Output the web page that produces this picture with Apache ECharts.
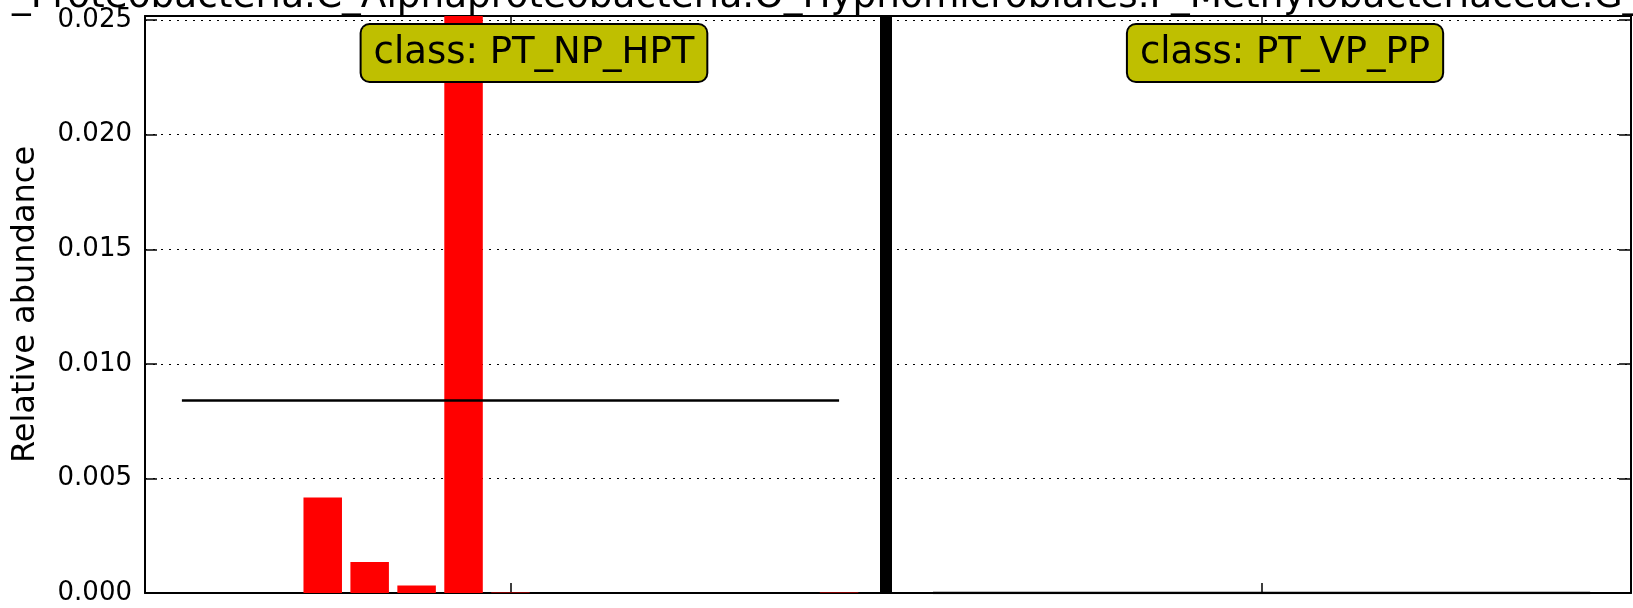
<!DOCTYPE html>
<html>
<head>
<meta charset="utf-8">
<script src="https://cdn.jsdelivr.net/npm/echarts@6/dist/echarts.min.js"></script>
<style>
  html, body { margin: 0; padding: 0; background: #fff; }
  #chart { width: 1633px; height: 608px; }
</style>
</head>
<body>
<div id="chart"></div>
<script>
// feature shown in this plot
const titleText = 'K_Bacteria.P_Proteobacteria.C_Alphaproteobacteria.O_Hyphomicrobiales.F_Methylobacteriaceae.G_Methylobacterium';

const classNames = ['PT_NP_HPT', 'PT_VP_PP'];
const classColors = ['#ff0000', '#00a000'];

// relative abundance per sample, one array per class
const npHptValues = [0, 0, 0, 0.00417, 0.00135, 0.00033, 0.1201, 0.00002, 0, 0, 0, 0, 0, 0, 0.00002];
const vpPpValues = [0, 0, 0, 0, 0, 0, 0, 0, 0, 0, 0, 0, 0, 0, 0];

const yTicks = [0, 0.005, 0.010, 0.015, 0.020, 0.025];
const yMax = 0.02518;

const classValues = [npHptValues, vpPpValues];
const FONT = '"DejaVu Sans", "Liberation Sans", sans-serif';

// sample slots: one empty slot between the classes
const barData = [];
const meanSeries = [];
const classCenters = [];
let slot = 0;
classValues.forEach((vals, c) => {
  const start = slot;
  vals.forEach(v => {
    barData.push({ value: [slot, v], itemStyle: { color: classColors[c] } });
    slot++;
  });
  const end = slot - 1;
  classCenters.push((start + end) / 2);
  const mean = vals.reduce((a, b) => a + b, 0) / vals.length;
  meanSeries.push({
    type: 'line',
    data: [[start, mean], [end, mean]],
    symbol: 'none',
    lineStyle: { color: '#000', width: 2.5 },
    z: 5,
    silent: true
  });
  slot++; // separator slot
});
const dividerX = npHptValues.length;

const chart = echarts.init(document.getElementById('chart'));

const xBase = {
  type: 'value',
  min: -0.786,
  max: 30.87,
  axisLine: { onZero: false, lineStyle: { color: '#000', width: 2 } },
  axisTick: { inside: true, length: 10, customValues: classCenters, lineStyle: { color: '#000', width: 1.5 } },
  axisLabel: { show: false },
  splitLine: { show: false }
};
const yBase = {
  type: 'value',
  min: 0,
  max: yMax,
  axisLine: { show: true, onZero: false, lineStyle: { color: '#000', width: 2 } },
  axisTick: { show: true, inside: true, length: 12, customValues: yTicks, lineStyle: { color: '#000', width: 1.5 } }
};

chart.setOption({
  animation: false,
  backgroundColor: '#fff',
  grid: { left: 145, right: 2, top: 16, bottom: 15 },
  xAxis: [
    Object.assign({}, xBase, { position: 'bottom' }),
    Object.assign({}, xBase, { position: 'top' })
  ],
  yAxis: [
    Object.assign({}, yBase, {
      position: 'left',
      name: 'Relative abundance',
      nameLocation: 'middle',
      nameGap: 103,
      nameTextStyle: { fontFamily: FONT, fontSize: 32, color: '#000' },
      axisLabel: {
        customValues: yTicks,
        formatter: v => v.toFixed(3),
        fontFamily: FONT, fontSize: 26, color: '#000', margin: 13
      },
      splitLine: { show: true, lineStyle: { color: '#000', width: 1, type: [2, 6] } }
    }),
    Object.assign({}, yBase, {
      position: 'right',
      axisLabel: { show: false },
      splitLine: { show: false }
    })
  ],
  series: [
    {
      type: 'bar',
      name: 'samples',
      data: barData,
      barWidth: 38.5,
      clip: true,
      silent: true,
      markLine: {
        silent: true,
        symbol: ['none', 'none'],
        label: { show: false },
        lineStyle: { color: '#000', width: 12, type: 'solid' },
        data: [{ xAxis: dividerX }]
      }
    }
  ].concat(meanSeries)
});

// title (wider than the canvas, centred on the plot area) and class boxes
const graphics = [{
  type: 'text',
  x: 880,
  y: 16,
  z: 100,
  style: {
    text: titleText,
    font: '37.4px ' + FONT,
    align: 'center',
    verticalAlign: 'bottom',
    fill: '#000'
  }
}];
classNames.forEach((name, c) => {
  const px = chart.convertToPixel({ xAxisIndex: 0 }, classCenters[c] + 0.5);
  graphics.push({
    type: 'text',
    x: px,
    y: 53,
    z: 100,
    style: {
      text: 'class: ' + name,
      font: '37px ' + FONT,
      align: 'center',
      verticalAlign: 'middle',
      fill: '#000',
      backgroundColor: '#bfbf00',
      borderColor: '#000',
      borderWidth: 2,
      borderRadius: 8,
      padding: [8, 12],
      lineHeight: 40
    }
  });
});
chart.setOption({ graphic: graphics });
</script>
</body>
</html>
